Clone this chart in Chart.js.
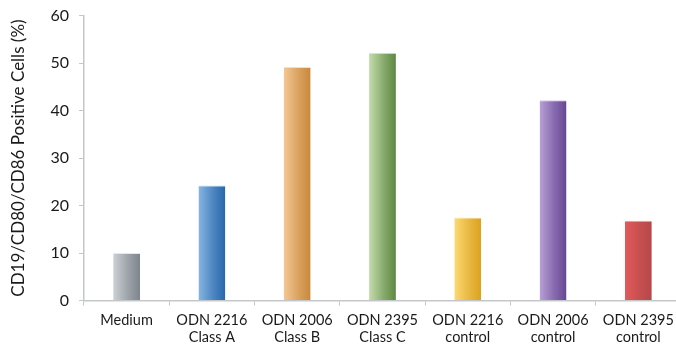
<!DOCTYPE html>
<html>
<head>
<meta charset="utf-8">
<script src="https://cdn.jsdelivr.net/npm/chart.js@4/dist/chart.umd.min.js"></script>
<style>
  html, body { margin: 0; padding: 0; background: #fff; overflow: hidden; }
  #wrap { position: absolute; left: 0; top: -4px; width: 690px; height: 356px; }
</style>
</head>
<body>
<div id="wrap"><canvas id="chart"></canvas></div>
<script>
// Categories (two-line labels) and the percentage of CD19/CD80/CD86 positive cells
const categories = [
  ["Medium"],
  ["ODN 2216", "Class A"],
  ["ODN 2006", "Class B"],
  ["ODN 2395", "Class C"],
  ["ODN 2216", "control"],
  ["ODN 2006", "control"],
  ["ODN 2395", "control"]
];
const positiveCells = [10, 24.2, 49.2, 52.2, 17.5, 42.2, 16.8];
const yTicks = [0, 10, 20, 30, 40, 50, 60];

// Light (left) and dark (right) gradient stops for each bar
const lightColors = ["#cdd1d6", "#86b5e3", "#f4c894", "#c5dcae", "#fcd975", "#b8a0d6", "#e35a5a"];
const darkColors  = ["#7d848b", "#2767aa", "#c7883c", "#5c8841", "#daa21f", "#664693", "#b5484a"];
const capColors   = ["#e4e6e9", "#b9d4ef", "#f8dfc0", "#dde9d0", "#fde8aa", "#d6c9e6", "#f0a0a0"];

const CAT_PCT = 1.0;
const BAR_PCT = 0.315;

function mix(a, b, t) {
  const pa = [1, 3, 5].map(k => parseInt(a.substr(k, 2), 16));
  const pb = [1, 3, 5].map(k => parseInt(b.substr(k, 2), 16));
  const c = pa.map((v, k) => Math.round(v + (pb[k] - v) * t));
  return "rgb(" + c.join(",") + ")";
}

function barGradient(ctx) {
  const chart = ctx.chart;
  const i = ctx.dataIndex;
  const xScale = chart.scales.x;
  if (!chart.chartArea || !xScale || i === undefined) return darkColors[i || 0];
  const cx = xScale.getPixelForValue(i);
  const w = (xScale.width / categories.length) * CAT_PCT * BAR_PCT;
  const g = chart.ctx.createLinearGradient(cx - w / 2, 0, cx + w / 2, 0);
  g.addColorStop(0, lightColors[i]);
  g.addColorStop(0.55, mix(lightColors[i], darkColors[i], 0.6));
  g.addColorStop(1, darkColors[i]);
  return g;
}

const axisColor = "#c4c7ca";
const textColor = "#1a1a1a";
const fontFamily = "Lato, 'Open Sans', sans-serif";

new Chart(document.getElementById("chart"), {
  type: "bar",
  data: {
    labels: categories,
    datasets: [{
      data: positiveCells,
      backgroundColor: barGradient,
      borderColor: capColors,
      borderWidth: { top: 1, left: 0, right: 0, bottom: 0 },
      borderSkipped: "bottom",
      categoryPercentage: CAT_PCT,
      barPercentage: BAR_PCT
    }]
  },
  options: {
    responsive: true,
    maintainAspectRatio: false,
    animation: false,
    layout: { padding: { top: 2, left: 8, right: 9, bottom: 0 } },
    plugins: {
      legend: { display: false },
      tooltip: { enabled: false }
    },
    scales: {
      x: {
        grid: {
          display: true,
          drawOnChartArea: false,
          drawTicks: true,
          tickLength: 5,
          color: axisColor,
          offset: true
        },
        border: { display: true, color: axisColor, width: 1.5 },
        ticks: {
          color: textColor,
          font: { family: fontFamily, size: 14.5, lineHeight: 1.12 },
          padding: 7,
          maxRotation: 0,
          autoSkip: false
        }
      },
      y: {
        min: 0,
        max: 60,
        afterBuildTicks: axis => { axis.ticks = yTicks.map(v => ({ value: v })); },
        grid: {
          display: true,
          drawOnChartArea: false,
          drawTicks: true,
          tickLength: 5,
          color: axisColor
        },
        border: { display: true, color: axisColor, width: 1.5 },
        ticks: {
          color: textColor,
          font: { family: fontFamily, size: 16 },
          padding: 10
        },
        title: {
          display: true,
          text: "CD19/CD80/CD86 Positive Cells (%)",
          color: textColor,
          font: { family: fontFamily, size: 17 },
          padding: { top: 0, bottom: 12 }
        }
      }
    }
  }
});
</script>
</body>
</html>
